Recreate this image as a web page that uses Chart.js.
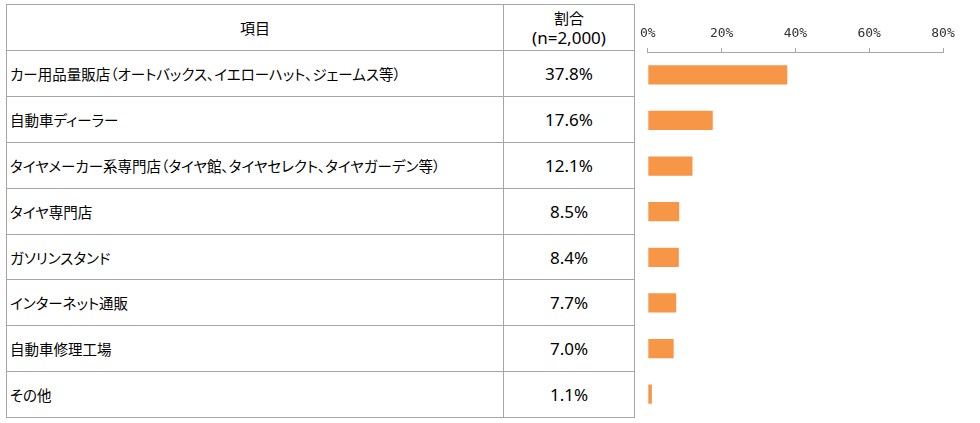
<!DOCTYPE html>
<html>
<head>
<meta charset="utf-8">
<script src="https://cdn.jsdelivr.net/npm/chart.js@4.4.0/dist/chart.umd.min.js"></script>
<style>
  body { margin: 0; background: #fff; }
  #wrap { position: relative; width: 980px; height: 423px; overflow: hidden; }
  #tbl {
    position: absolute; left: 6px; top: 4px; width: 628px;
    border-collapse: collapse; table-layout: fixed;
    font-family: "Noto Sans CJK JP", sans-serif; color: #000;
  }
  #tbl td { border: 1px solid #a6a6a6; padding: 0; }
  #tbl td.name { font-size: 14.5px; padding-left: 3px; font-feature-settings: "palt"; white-space: nowrap; }
  #tbl td.val { font-family: "Noto Sans", sans-serif; font-size: 17px; text-align: center; }
  #tbl td.head { text-align: center; font-size: 15px; line-height: 20px; }
  #tbl td.head span { font-family: "Noto Sans", sans-serif; font-size: 17px; }
  #chartBox { position: absolute; left: 633px; top: 0; width: 347px; height: 423px; }
</style>
</head>
<body>
<div id="wrap">
  <table id="tbl"><tbody id="tb"></tbody></table>
  <div id="chartBox"><canvas id="myChart" width="347" height="423"></canvas></div>
</div>
<script>
const headers = ['項目', '割合', '(n=2,000)'];
const categories = [
  'カー用品量販店（オートバックス、イエローハット、ジェームス等）',
  '自動車ディーラー',
  'タイヤメーカー系専門店（タイヤ館、タイヤセレクト、タイヤガーデン等）',
  'タイヤ専門店',
  'ガソリンスタンド',
  'インターネット通販',
  '自動車修理工場',
  'その他'
];
const shares = [37.8, 17.6, 12.1, 8.5, 8.4, 7.7, 7.0, 1.1];
const xTicks = [0, 20, 40, 60, 80];

// table on the left
const tb = document.getElementById('tb');
let html = '<tr style="height:46px"><td class="head" style="width:496px">' + headers[0] +
  '</td><td class="head" style="width:130px">' + headers[1] + '<br><span>' + headers[2] + '</span></td></tr>';
categories.forEach((c, i) => {
  html += '<tr style="height:45.9px"><td class="name">' + c + '</td><td class="val">' +
    shares[i].toFixed(1) + '%</td></tr>';
});
tb.innerHTML = html;

new Chart(document.getElementById('myChart'), {
  type: 'bar',
  data: {
    labels: categories,
    datasets: [{
      data: shares,
      backgroundColor: '#f79646',
      borderWidth: 0,
      barPercentage: 0.42,
      categoryPercentage: 1
    }]
  },
  options: {
    indexAxis: 'y',
    responsive: false,
    animation: false,
    layout: { padding: { left: 13, right: 37, top: 0, bottom: 6 } },
    plugins: { legend: { display: false }, tooltip: { enabled: false } },
    scales: {
      x: {
        position: 'top',
        min: 0,
        max: 80,
        afterBuildTicks: (s) => { s.ticks = xTicks.map(v => ({ value: v })); },
        afterFit: (s) => { s.height = 52; },
        grid: { drawOnChartArea: false, drawTicks: true, tickLength: 4, color: '#a6a6a6' },
        border: { display: true, color: '#a6a6a6' },
        ticks: {
          padding: 7,
          color: '#333333',
          font: { family: 'DejaVu Sans Mono', size: 13 },
          callback: (v) => v + '%'
        }
      },
      y: {
        display: false
      }
    }
  }
});
</script>
</body>
</html>
